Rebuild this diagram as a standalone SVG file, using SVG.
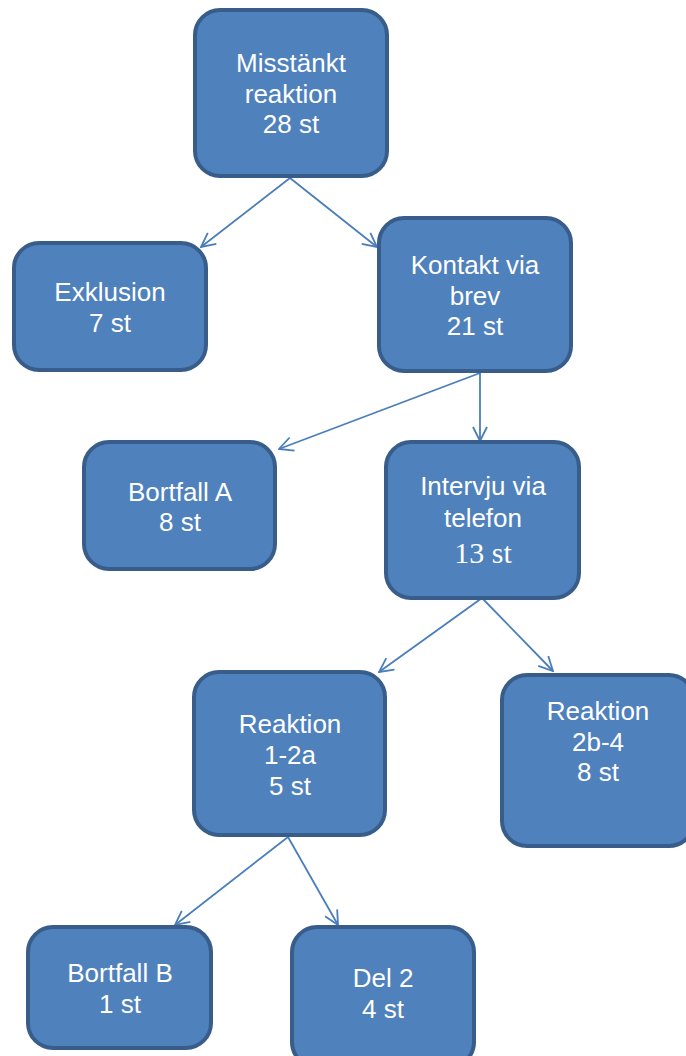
<svg xmlns="http://www.w3.org/2000/svg" width="686" height="1056" viewBox="0 0 686 1056">
<style>
.box{fill:#4f81bd;stroke:#385d8a;stroke-width:4}
.t{fill:#fff;font-family:"Liberation Sans",Arial,sans-serif;font-size:26px;text-anchor:middle}
.s{fill:#fff;font-family:"Liberation Serif","Times New Roman",serif;font-size:30px;text-anchor:middle}
.c{fill:none;stroke:#4a7ebb;stroke-width:1.8}
</style>
<defs>
<marker id="a" viewBox="0 0 16 16" refX="15" refY="8" markerWidth="16" markerHeight="16" markerUnits="userSpaceOnUse" orient="auto">
<path d="M1,1 L15,8 L1,15" fill="none" stroke="#4a7ebb" stroke-width="1.8"/>
</marker>
</defs>
<g id="connectors">
<line class="c" x1="290" y1="178" x2="201" y2="247" marker-end="url(#a)"/>
<line class="c" x1="290" y1="178" x2="377" y2="247" marker-end="url(#a)"/>
<line class="c" x1="480" y1="373" x2="279" y2="449" marker-end="url(#a)"/>
<line class="c" x1="480" y1="373" x2="480" y2="441" marker-end="url(#a)"/>
<line class="c" x1="482" y1="598" x2="379" y2="672" marker-end="url(#a)"/>
<line class="c" x1="482" y1="598" x2="553" y2="671" marker-end="url(#a)"/>
<line class="c" x1="288" y1="837" x2="175" y2="925" marker-end="url(#a)"/>
<line class="c" x1="288" y1="837" x2="338" y2="925" marker-end="url(#a)"/>
</g>
<g id="n1">
<rect class="box" x="195" y="10" width="192" height="166" rx="25"/>
<text class="t" x="291" y="72">Misstänkt</text>
<text class="t" x="291" y="103">reaktion</text>
<text class="t" x="291" y="133">28 st</text>
</g>
<g id="n2">
<rect class="box" x="14" y="243" width="192" height="127" rx="25"/>
<text class="t" x="110" y="301">Exklusion</text>
<text class="t" x="110" y="332">7 st</text>
</g>
<g id="n3">
<rect class="box" x="379" y="218" width="192" height="153" rx="25"/>
<text class="t" x="475" y="274">Kontakt via</text>
<text class="t" x="475" y="305">brev</text>
<text class="t" x="475" y="335">21 st</text>
</g>
<g id="n4">
<rect class="box" x="84" y="442" width="191" height="127" rx="25"/>
<text class="t" x="180" y="501">Bortfall A</text>
<text class="t" x="180" y="531">8 st</text>
</g>
<g id="n5">
<rect class="box" x="386" y="442" width="193" height="156" rx="25"/>
<text class="t" x="483" y="495">Intervju via</text>
<text class="t" x="483" y="527">telefon</text>
<text class="s" x="483" y="563">13 st</text>
</g>
<g id="n6">
<rect class="box" x="194" y="672" width="191" height="163" rx="25"/>
<text class="t" x="290" y="733">Reaktion</text>
<text class="t" x="290" y="764">1-2a</text>
<text class="t" x="290" y="795">5 st</text>
</g>
<g id="n7">
<rect class="box" x="502" y="675" width="192" height="171" rx="25"/>
<text class="t" x="598" y="720">Reaktion</text>
<text class="t" x="598" y="751">2b-4</text>
<text class="t" x="598" y="781">8 st</text>
</g>
<g id="n8">
<rect class="box" x="28" y="927" width="183" height="121" rx="25"/>
<text class="t" x="120" y="982">Bortfall B</text>
<text class="t" x="120" y="1013">1 st</text>
</g>
<g id="n9">
<rect class="box" x="292" y="927" width="182" height="140" rx="25"/>
<text class="t" x="383" y="987">Del 2</text>
<text class="t" x="383" y="1018">4 st</text>
</g>
</svg>
